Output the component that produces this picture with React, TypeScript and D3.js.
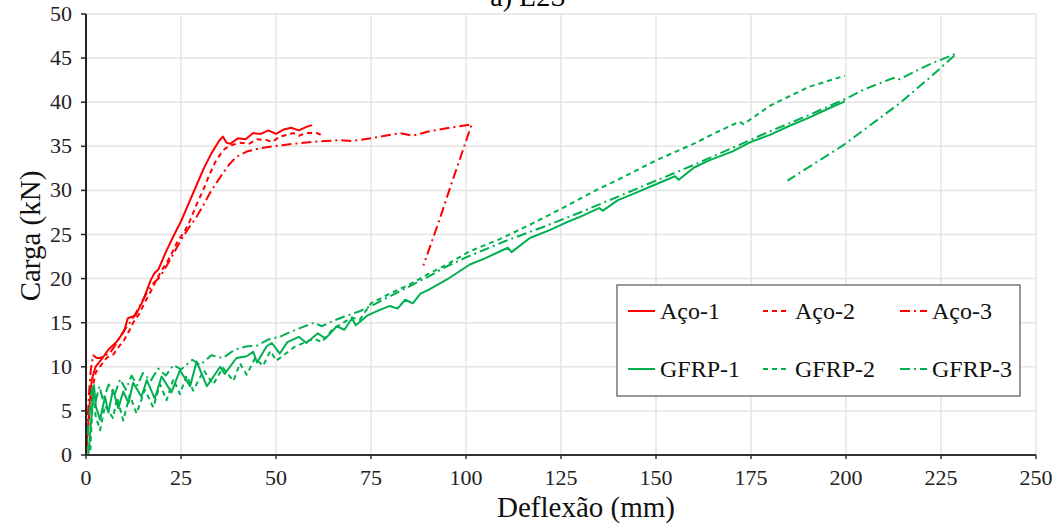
import React from 'react';
import * as d3 from 'd3';

// deflexão (mm), carga (kN)
const aco1: [number, number][] = [
  [0, 0], [0.5, 3], [1, 6], [1.5, 8.5], [2.5, 10], [4, 10.8], [6, 12], [8, 12.8], [10, 14], [11, 15.5],
  [13, 15.8], [15, 17.5], [17, 19.8], [18, 20.6], [19, 21], [21, 23], [23, 24.8], [25, 26.5], [27, 28.5],
  [29, 30.5], [31, 32.5], [33, 34.2], [35, 35.6], [36, 36.1], [37, 35.4], [38, 35.3], [40, 35.9], [42, 35.8],
  [44, 36.5], [46, 36.4], [48, 36.8], [50, 36.4], [52, 36.9], [54, 37.1], [56, 36.8], [58, 37.2], [59.5, 37.4],
];
const aco2: [number, number][] = [
  [0, 0], [0.3, 2], [1, 5], [1.8, 7.8], [2.6, 9.4], [4, 10.2], [5.4, 11], [7.2, 11.4], [8.5, 12.2], [10, 13],
  [11.5, 14.2], [12.4, 15], [14, 16], [15.5, 17.3], [17, 18.5], [18.7, 20], [20, 21], [21, 21.6], [22.5, 22.8],
  [24.2, 24.3], [26, 25.4], [27.4, 26.6], [29, 28.3], [30.8, 30], [32.5, 31.8], [34, 33.2], [35.5, 34.2],
  [36.5, 34.7], [38, 35.1], [40.5, 35.4], [43, 35.3], [45, 35.8], [47.6, 35.7], [49, 35.5], [51, 36.1],
  [53, 36.3], [54.5, 36.5], [56, 36.2], [58, 36.5], [60.8, 36.5], [61.8, 36.3],
];
const aco3: [number, number][] = [
  [0, 0], [0.3, 3], [0.8, 7], [1.3, 9.8], [1.9, 11.3], [2.8, 11], [3.6, 11], [5, 11.3], [6.2, 11.5], [7.5, 12.3],
  [8.8, 13.3], [10, 14.1], [11.4, 14.9], [13, 16], [14.5, 17.2], [16, 18.4], [17.8, 19.5], [19.5, 20.2], [21, 21.3],
  [22.1, 22.1], [24, 23.6], [25.6, 24.8], [27.3, 25.9], [29.1, 27], [31, 28.4], [32.6, 29.7], [34.4, 30.9],
  [36.1, 32], [37.8, 33], [39.6, 33.8], [42.3, 34.4], [46, 34.8], [51, 35.1], [55, 35.3], [59.8, 35.5], [63, 35.6],
  [66.8, 35.7], [70, 35.6], [75, 35.9], [77.4, 36.1], [82.6, 36.5], [86, 36.2], [90.4, 36.7], [95.7, 37.1],
  [101.5, 37.5], [99.3, 34.7], [96.2, 30.8], [93.2, 26.9], [88.8, 21.5],
];
const gfrp1: [number, number][] = [
  [0, 0], [0.6, 0], [1.2, 3], [2.1, 7.9], [2.6, 5.5], [3.7, 4], [5, 6.6], [5.9, 4.8], [7.1, 7.4], [8.5, 5.3],
  [9.8, 7.2], [11.2, 5.9], [12.4, 8.2], [14.6, 6.6], [16, 8.5], [18.1, 6.4], [19.9, 8.9], [22.5, 7.1], [24.7, 9.6],
  [27.4, 7.8], [29.1, 10.6], [31.8, 7.8], [35.3, 10], [36.5, 9.2], [39.6, 11], [42.3, 11.2], [44, 11.7], [45, 10.5],
  [47.5, 12.3], [48.9, 12.7], [51, 11.5], [53, 12.8], [56, 13.4], [58, 12.7], [61, 13.8], [63, 13.2], [66, 14.6],
  [68, 14.2], [70, 15.5], [71, 14.7], [74, 15.8], [77, 16.4], [80, 16.9], [82, 16.6], [84, 17.6], [86, 17.2],
  [88, 18.3], [90, 18.7], [95, 19.9], [101, 21.6], [105, 22.3], [109, 23.1], [111, 23.5], [112, 23], [116.8, 24.6],
  [122, 25.5], [126, 26.3], [130, 27], [135, 28], [136, 27.7], [140, 28.9], [144, 29.6], [150, 30.7], [155, 31.6],
  [156, 31.2], [160, 32.6], [164, 33.4], [170, 34.4], [175, 35.5], [180, 36.3], [185, 37.3], [190, 38.2],
  [195, 39.2], [199.7, 40.1],
];
const gfrp2: [number, number][] = [
  [0, 0], [1.1, 0], [1.5, 4], [1.9, 7.8], [2.5, 4.5], [3.7, 2.8], [5, 5.6], [7.1, 4.2], [8.2, 6.5], [9.8, 3.9],
  [11.5, 6.8], [13.3, 4.7], [15.5, 7.4], [17.7, 5.4], [19.5, 8], [21.2, 6.2], [23, 8.6], [24.7, 6.9], [26.5, 9],
  [28.2, 7.3], [31, 9.6], [33.5, 8], [36, 9.9], [38.8, 8.4], [40.5, 10.4], [42.3, 9.1], [44.5, 11], [46.6, 10.1],
  [48.5, 11.8], [50.1, 10.7], [55, 12.3], [60, 13.2], [62, 12.8], [65, 14.3], [70, 15.6], [72, 15.3], [75, 17.2],
  [80, 18.3], [85, 19.3], [90, 20.5], [95, 21.6], [101, 23.1], [109, 24.5], [116.8, 26.1], [125, 27.9],
  [135, 30.2], [140, 31.2], [150, 33.4], [160, 35.3], [166, 36.6], [172, 37.8], [173, 37.5], [180, 39.6],
  [190, 41.7], [199.7, 43],
];
const gfrp3: [number, number][] = [
  [0, 0], [0.3, 2], [1, 5], [1.5, 7.5], [2.5, 6], [3.5, 7.8], [4.5, 6.2], [6, 8], [7.5, 6.8], [9, 8.6],
  [10.5, 7.4], [12, 9], [13.5, 7.9], [15, 9.3], [17, 8.4], [19, 9.8], [21, 9], [23, 10.2], [25, 9.7], [28, 10.8],
  [30, 10.2], [33, 11.3], [36, 11], [39, 11.9], [42, 12.3], [45, 12.4], [48, 13.1], [51, 13.4], [54, 14],
  [57, 14.5], [60, 15], [62, 14.6], [65, 15.2], [68, 15.7], [72, 16.3], [76, 17.1], [80, 18], [85, 19.1],
  [90, 20.2], [95, 21.4], [100, 22.4], [105, 23.3], [110, 24.2], [120, 25.8], [130, 27.5], [140, 29.3],
  [150, 31.1], [160, 32.9], [170, 34.8], [180, 36.7], [190, 38.5], [200, 40.4], [205, 41.5], [211.6, 42.6],
  [213, 42.8], [214, 42.6], [222, 44.3], [229, 45.5], [222.9, 43.1], [214.2, 39.9], [199.2, 35.1], [184.6, 31.1],
];

const xTicks = [0, 25, 50, 75, 100, 125, 150, 175, 200, 225, 250];
const yTicks = [0, 5, 10, 15, 20, 25, 30, 35, 40, 45, 50];

const red = '#ff0000';
const green = '#00b050';
const dashed = '5,4';
const dashDot = '10,4,2,4';

const series = [
  { name: 'Aço-1', data: aco1, color: red, dash: null },
  { name: 'Aço-2', data: aco2, color: red, dash: dashed },
  { name: 'Aço-3', data: aco3, color: red, dash: dashDot },
  { name: 'GFRP-1', data: gfrp1, color: green, dash: null },
  { name: 'GFRP-2', data: gfrp2, color: green, dash: dashed },
  { name: 'GFRP-3', data: gfrp3, color: green, dash: dashDot },
];

export default function App() {
  const width = 1058;
  const height = 524;
  const left = 86;
  const right = 1036;
  const top = 14;
  const bottom = 455;
  const font = 'Liberation Serif, DejaVu Serif, serif';

  const x = d3.scaleLinear().domain([0, 250]).range([left, right]);
  const y = d3.scaleLinear().domain([0, 50]).range([bottom, top]);
  const line = d3
    .line<[number, number]>()
    .x(d => x(d[0]))
    .y(d => y(d[1]));

  // legend layout
  const lgX = 617;
  const lgY = 285;
  const colX = [628, 763, 900];
  const rowY = [311, 369];

  return (
    <svg width={width} height={height} style={{ position: 'absolute', left: 0, top: 0, background: '#fff', fontFamily: font }}>
      <rect width={width} height={height} fill="#fff" />
      <text x={528} y={6} textAnchor="middle" fontSize={28} fill="#000" style={{ fontFamily: font }}>a) L2S</text>

      {xTicks.map(t => (
        <line key={'gx' + t} x1={x(t)} x2={x(t)} y1={top} y2={bottom} stroke="#e4e4e4" strokeWidth={1.5} />
      ))}
      {yTicks.map(t => (
        <line key={'gy' + t} x1={left} x2={right} y1={y(t)} y2={y(t)} stroke="#e4e4e4" strokeWidth={1.5} />
      ))}

      {series.map(s => (
        <path
          key={s.name}
          d={line(s.data) || ''}
          fill="none"
          stroke={s.color}
          strokeWidth={2}
          strokeDasharray={s.dash || undefined}
          strokeLinejoin="round"
        />
      ))}

      <line x1={left} x2={left} y1={top} y2={bottom} stroke="#222" strokeWidth={2} />
      <line x1={left} x2={right} y1={bottom} y2={bottom} stroke="#333" strokeWidth={2} />
      {yTicks.map(t => (
        <g key={'ty' + t}>
          <line x1={left - 5} x2={left} y1={y(t)} y2={y(t)} stroke="#222" strokeWidth={1.5} />
          <text x={left - 14} y={y(t) + 7} textAnchor="end" fontSize={22} fill="#222" style={{ fontFamily: font }}>{t}</text>
        </g>
      ))}
      {xTicks.map(t => (
        <g key={'tx' + t}>
          <line x1={x(t)} x2={x(t)} y1={bottom} y2={bottom + 4} stroke="#333" strokeWidth={1.5} />
          <text x={x(t)} y={bottom + 30} textAnchor="middle" fontSize={22} fill="#222" style={{ fontFamily: font }}>{t}</text>
        </g>
      ))}

      <text x={586} y={517} textAnchor="middle" fontSize={29} fill="#111" style={{ fontFamily: font }}>Deflexão (mm)</text>
      <text transform="translate(40,236) rotate(-90)" textAnchor="middle" fontSize={29} fill="#111" style={{ fontFamily: font }}>Carga (kN)</text>

      <rect x={lgX} y={lgY} width={403} height={111} fill="#fff" stroke="#777" strokeWidth={1.5} />
      {series.map((s, i) => {
        const cx = colX[i % 3];
        const cy = rowY[Math.floor(i / 3)];
        return (
          <g key={'lg' + s.name}>
            <line x1={cx} x2={cx + 27} y1={cy} y2={cy} stroke={s.color} strokeWidth={2} strokeDasharray={s.dash || undefined} />
            <text x={cx + 32} y={cy + 8} fontSize={24} fill="#111" style={{ fontFamily: font }}>{s.name}</text>
          </g>
        );
      })}
    </svg>
  );
}
